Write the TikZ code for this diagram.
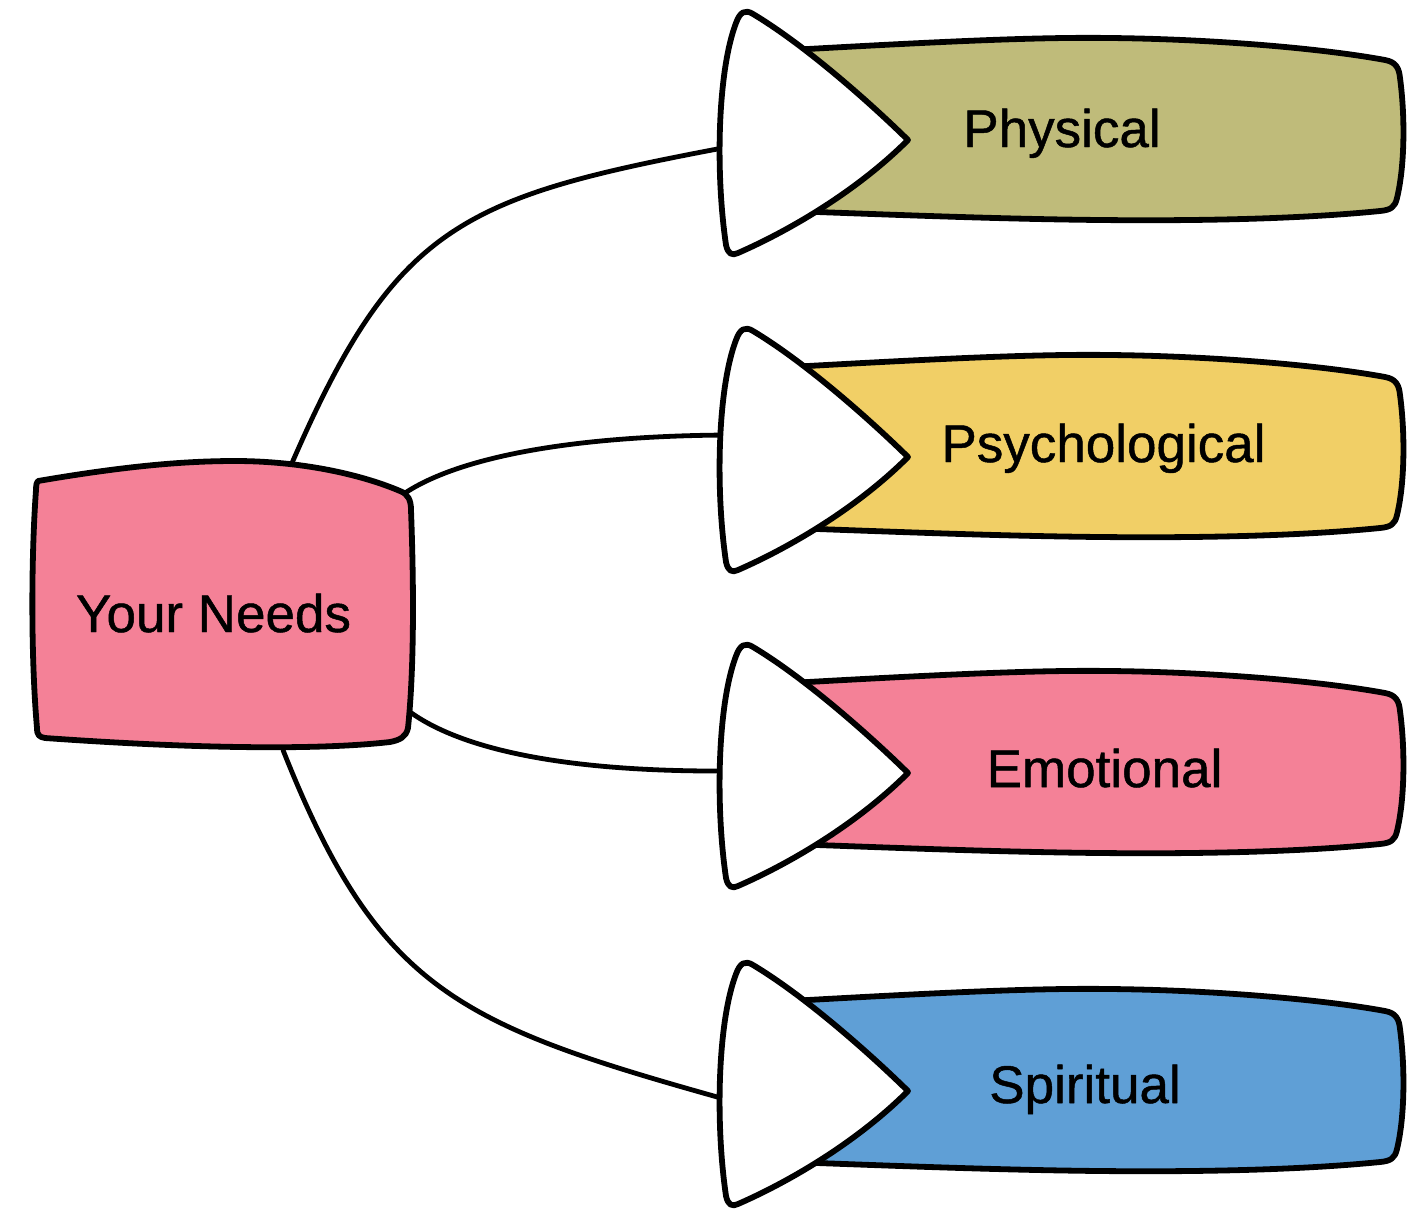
\documentclass[tikz,border=0pt]{standalone}
\usepackage{fontspec}
\setmainfont{Liberation Sans}
\newfontfamily\labelfont{Liberation Sans}[FakeBold=0.9]
\definecolor{physfill}{HTML}{BFBB7A}
\definecolor{psychfill}{HTML}{F1CF66}
\definecolor{emofill}{HTML}{F48197}
\definecolor{spiritfill}{HTML}{5F9FD6}
\definecolor{needsfill}{HTML}{F48197}

\begin{document}
\begin{tikzpicture}[x=1pt, y=-1pt, line join=round, line cap=round,
  outline/.style={draw=black, line width=5.8pt},
  link/.style={draw=black, line width=4.8pt},
  tag/.style={font=\labelfont\fontsize{53}{60}\selectfont, anchor=base, inner sep=0pt}]
\useasboundingbox (0,0) rectangle (1411,1208);

% attachment points on the central box
\coordinate (needs-n)  at (292,463);
\coordinate (needs-ne) at (405,493);
\coordinate (needs-se) at (410,712);
\coordinate (needs-s)  at (283,750);
% attachment points on the arrow heads
\coordinate (phys-in)   at (728,147);
\coordinate (psych-in)  at (728,435);
\coordinate (emo-in)    at (728,771);
\coordinate (spirit-in) at (728,1100);

% curved connectors
\draw[link] (needs-n)  .. controls (396,224) and (462,197) .. (phys-in);
\draw[link] (needs-ne) .. controls (455,460) and (560,436) .. (psych-in);
\draw[link] (needs-se) .. controls (460,748) and (560,772) .. (emo-in);
\draw[link] (needs-s)  .. controls (379,992) and (460,1025) .. (spirit-in);

% central box
\path[outline, fill=needsfill]
  (38,481) .. controls (120,467) and (180,461) .. (235,461)
  .. controls (300,461) and (360,474) .. (400,491)
  .. controls (408,494) and (411,500) .. (411,510)
  .. controls (414,590) and (414,670) .. (408,728)
  .. controls (406,737) and (400,740) .. (390,742)
  .. controls (320,750) and (200,749) .. (45,738)
  .. controls (39,737) and (37,735) .. (37,728)
  .. controls (31,660) and (31,560) .. (36,490)
  .. controls (36,484) and (37,482) .. (38,481) -- cycle;
\node[tag] (needs) at (213.5,632) {Your Needs};

% the four branches: coloured banner with a white arrow head
\foreach \T/\col/\nm/\lx/\ly/\txt in {
    140/physfill/phys/1062/7/Physical,
    457/psychfill/psych/1103.5/5/Psychological,
    773/emofill/emo/1104.5/14/Emotional,
    1091/spiritfill/spirit/1085/12/Spiritual}{
  \begin{scope}[shift={(0,\T)}]
    \path[outline, fill=\col]
      (790,-90) .. controls (950,-99) and (1040,-103) .. (1110,-102)
      .. controls (1210,-101) and (1320,-92) .. (1385,-80)
      .. controls (1396,-78) and (1399,-72) .. (1400,-62)
      .. controls (1405,-25) and (1405,25) .. (1397,58)
      .. controls (1395,67) and (1391,70) .. (1380,71)
      .. controls (1300,79) and (1200,81) .. (1100,80)
      .. controls (1000,79) and (900,75) .. (790,71) -- cycle;
    \path[outline, fill=white]
      (908,0) .. controls (862,-45) and (800,-98) .. (753,-126)
      .. controls (745,-131) and (740,-128) .. (736,-117)
      .. controls (718,-70) and (715,30) .. (726,105)
      .. controls (728,114) and (732,116) .. (738,113)
      .. controls (795,88) and (860,48) .. (908,0) -- cycle;
    \node[tag] (\nm) at (\lx,\ly) {\txt};
  \end{scope}
}
\end{tikzpicture}
\end{document}
